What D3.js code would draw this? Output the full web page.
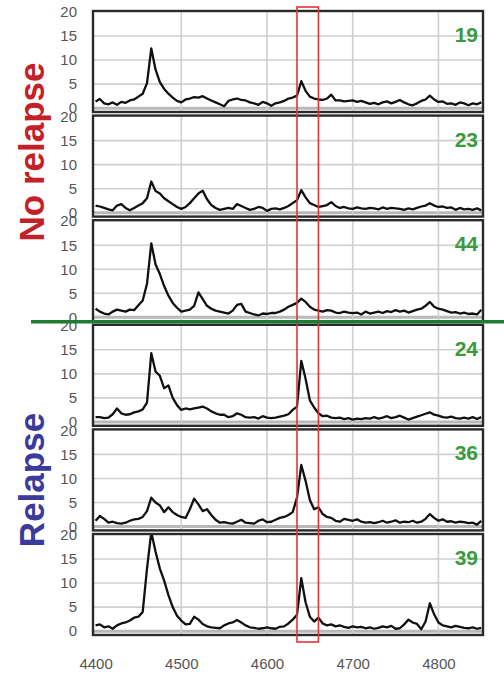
<!DOCTYPE html>
<html>
<head>
<meta charset="utf-8">
<script src="https://cdn.jsdelivr.net/npm/d3@7"></script>
<style>
  html, body { margin: 0; padding: 0; background: #fff; }
  svg { display: block; font-family: "Liberation Sans", Arial, sans-serif; }
</style>
</head>
<body>
<svg id="chart" width="504" height="676"></svg>
<script>
// Wavenumber grid shared by every spectrum (cm-1), sampled every 5 units
const wavenumbers = d3.range(4400, 4851, 5);

// Sample labels, top to bottom
const sampleIds = ["19", "23", "44", "24", "36", "39"];

// Spectra (one value per wavenumber)
const s19 = [1.4,1.9,1.0,0.8,1.2,0.7,1.3,1.1,1.6,1.8,
  2.4,3.0,5.2,12.4,8.0,5.4,4.0,3.0,2.2,1.5,
  1.2,1.8,2.0,2.3,2.2,2.5,2.0,1.6,1.2,0.8,
  0.4,1.5,1.8,2.0,1.7,1.6,1.2,1.0,0.7,1.3,
  1.0,0.5,1.0,1.2,1.5,2.0,2.2,2.6,5.6,3.6,
  2.4,2.0,1.8,1.7,2.0,2.8,1.6,1.6,1.4,1.5,
  1.6,1.3,1.5,1.2,0.9,1.1,0.8,1.2,1.4,1.0,
  1.3,1.7,1.2,0.8,0.6,1.0,1.5,1.8,2.6,1.8,
  1.3,1.4,0.9,1.0,0.7,1.2,1.0,0.6,1.0,0.8,
  1.2];
const s23 = [1.5,1.3,1.0,0.7,0.5,1.5,1.8,1.0,0.5,1.0,
  1.5,2.0,3.0,6.5,4.5,4.0,3.0,2.4,1.8,1.2,
  0.8,1.2,2.0,3.0,4.0,4.6,2.8,1.6,1.0,0.6,
  0.8,1.0,0.8,1.8,1.4,1.0,0.6,0.8,1.2,1.0,
  0.4,0.8,0.9,0.7,1.0,1.4,2.0,2.6,4.7,3.2,
  2.0,1.6,1.2,1.4,1.6,2.2,1.4,1.0,1.2,0.9,
  0.8,1.1,0.9,0.8,1.0,0.9,0.7,1.1,0.8,1.0,
  0.9,0.8,0.6,0.9,0.7,1.0,1.3,1.5,2.0,1.5,
  1.2,1.3,1.0,1.1,0.6,1.0,0.7,0.8,0.6,0.9,
  0.5];
const s44 = [1.8,1.2,0.8,0.6,1.2,1.6,1.4,1.2,1.6,1.5,
  2.5,3.5,7.0,15.4,11.0,9.0,6.5,4.5,3.0,2.0,
  1.2,1.4,1.6,2.4,5.2,3.8,2.4,1.8,1.4,1.2,
  1.0,0.8,1.4,2.6,2.8,1.2,0.9,0.6,0.4,0.8,
  0.7,0.9,0.9,1.2,1.6,2.2,2.6,3.0,3.9,3.2,
  2.2,1.6,1.4,1.2,1.5,1.4,1.0,0.9,1.2,1.0,
  0.9,1.0,0.6,1.2,0.8,1.0,1.2,0.9,1.3,1.1,
  1.5,1.2,1.4,1.0,1.3,1.6,1.8,2.4,3.2,2.2,
  1.8,1.6,1.3,1.0,1.1,0.8,1.0,0.7,0.8,0.6,
  1.6];
const s24 = [1.0,1.0,0.8,0.9,1.6,2.8,1.8,1.5,1.6,2.0,
  2.2,2.6,4.0,14.3,10.5,9.6,7.0,7.6,5.0,3.5,
  2.5,2.8,2.6,2.8,3.0,3.2,2.8,2.2,1.8,1.5,
  1.5,1.0,1.2,1.8,1.5,1.0,0.9,1.0,0.7,1.2,
  0.9,0.8,0.9,1.1,1.3,1.6,2.5,3.2,12.7,9.0,
  4.5,3.0,1.8,1.2,1.3,0.9,0.8,0.9,0.6,0.8,
  0.5,0.7,0.6,0.8,0.7,1.0,0.7,0.9,1.2,0.8,
  1.0,1.3,0.9,0.5,0.8,1.1,1.4,1.7,2.0,1.5,
  1.3,1.0,0.9,1.1,0.8,0.7,0.9,0.7,1.0,0.6,
  1.0];
const s36 = [1.2,2.2,1.6,0.8,1.0,0.7,0.6,0.8,1.2,1.5,
  1.6,2.0,3.2,6.0,5.0,4.4,3.0,4.0,3.0,2.4,
  2.0,1.8,3.6,5.8,4.6,3.2,3.6,2.4,1.4,0.8,
  0.9,0.7,0.6,1.0,1.4,0.8,0.7,0.6,1.2,1.5,
  0.9,1.0,1.4,1.8,2.0,2.4,3.0,6.0,12.8,9.5,
  5.5,3.6,4.0,2.6,2.0,1.8,1.2,1.0,1.6,1.4,
  1.2,1.5,1.0,0.8,0.9,0.7,0.9,1.2,0.8,1.0,
  1.3,0.8,1.0,0.9,1.2,0.8,1.0,1.6,2.6,1.8,
  1.2,1.5,1.0,1.1,0.8,1.0,0.9,0.7,0.8,0.4,
  1.2];
const s39 = [1.2,1.4,0.8,1.0,0.5,1.2,1.6,1.8,2.2,2.8,
  3.0,4.0,13.0,20.6,16.5,13.0,10.5,7.5,5.0,3.2,
  2.2,1.4,1.5,3.0,2.4,1.5,1.0,0.8,0.7,0.6,
  1.2,1.6,1.8,2.3,1.8,1.2,0.8,0.7,0.5,0.6,
  0.8,0.6,0.5,0.9,1.0,1.6,2.4,3.4,11.0,6.0,
  3.0,2.0,2.8,1.6,1.2,1.4,1.0,1.2,0.9,0.7,
  1.0,0.8,0.9,0.6,0.8,0.5,0.7,1.0,0.8,1.1,
  0.5,0.6,1.4,2.4,1.8,1.5,0.4,2.0,5.8,3.5,
  1.8,1.2,1.0,0.8,1.1,0.9,0.7,0.6,0.8,0.5,
  0.7];
const spectra = [s19, s23, s44, s24, s36, s39];

// Axis ticks
const xTicks = [4400, 4500, 4600, 4700, 4800];
const xGrid = [4500, 4600, 4700, 4800];
const yTicks = [0, 5, 10, 15, 20];
const yGrid = [0, 5, 10, 15];

// Highlighted band (wavenumber range)
const band = [4635, 4660];

// Group labels
const groupLabels = [
  { text: "No relapse", color: "#c42127", cy: 152 },
  { text: "Relapse", color: "#3b3b9e", cy: 480 }
];

// Layout
const W = 504, H = 676;
const left = 93, right = 483;
const panelTop0 = 11, panelStep = 104.6, panelH = 101;

const svg = d3.select("#chart");
svg.append("rect").attr("width", W).attr("height", H).attr("fill", "#fff");

const x = d3.scaleLinear().domain([4397, 4852]).range([left, right]);
const y = d3.scaleLinear().domain([-0.8, 20.2]).range([panelH, 0]);

const line = d3.line()
  .x((d, i) => x(wavenumbers[i]))
  .y(d => y(d));

spectra.forEach((vals, p) => {
  const top = panelTop0 + p * panelStep;
  const g = svg.append("g").attr("transform", `translate(0,${top})`);

  // grid
  g.selectAll("line.hg").data(yGrid).join("line")
    .attr("x1", left).attr("x2", right)
    .attr("y1", d => y(d)).attr("y2", d => y(d))
    .attr("stroke", d => d === 0 ? "#b8b8b8" : "#cfcfcf")
    .attr("stroke-width", d => d === 0 ? 3 : 1.6);
  g.selectAll("line.vg").data(xGrid).join("line")
    .attr("x1", d => x(d)).attr("x2", d => x(d))
    .attr("y1", 0).attr("y2", panelH)
    .attr("stroke", "#cfcfcf").attr("stroke-width", 1.6);

  // spectrum
  const clipId = "clip" + p;
  g.append("clipPath").attr("id", clipId)
    .append("rect").attr("x", left).attr("y", 0)
    .attr("width", right - left).attr("height", panelH);
  g.append("path")
    .attr("d", line(vals))
    .attr("clip-path", `url(#${clipId})`)
    .attr("fill", "none")
    .attr("stroke", "#111")
    .attr("stroke-width", 2.3)
    .attr("stroke-linejoin", "round");

  // frame
  g.append("rect")
    .attr("x", left).attr("y", 0)
    .attr("width", right - left).attr("height", panelH)
    .attr("fill", "none").attr("stroke", "#2a2a2a").attr("stroke-width", 2.4);

  // y axis labels
  const ax = g.append("g").attr("transform", `translate(${left - 16},0)`)
    .call(d3.axisLeft(y).tickValues(yTicks).tickSize(0).tickPadding(0));
  ax.select(".domain").remove();
  ax.selectAll("text")
    .attr("font-size", 15)
    .attr("font-family", "'Liberation Sans', Arial, sans-serif")
    .attr("fill", "#555");

  // sample number
  g.append("text")
    .attr("x", 478).attr("y", 31)
    .attr("text-anchor", "end")
    .attr("font-size", 21).attr("font-weight", "bold")
    .attr("fill", "#3a9a3e")
    .text(sampleIds[p]);
});

// x axis
const xa = svg.append("g").attr("transform", `translate(0,650)`)
  .call(d3.axisBottom(x).tickValues(xTicks).tickSize(0).tickPadding(8).tickFormat(d3.format("d")));
xa.select(".domain").remove();
xa.selectAll("text")
  .attr("font-size", 15)
  .attr("font-family", "'Liberation Sans', Arial, sans-serif")
  .attr("fill", "#555");

// highlighted band
svg.append("rect")
  .attr("x", x(band[0])).attr("y", 7)
  .attr("width", x(band[1]) - x(band[0]))
  .attr("height", 635)
  .attr("fill", "none").attr("stroke", "#e0353a").attr("stroke-width", 1.6);

// group divider
const divY = panelTop0 + 3 * panelStep - 3;
svg.append("line")
  .attr("x1", 31).attr("x2", W)
  .attr("y1", divY).attr("y2", divY)
  .attr("stroke", "#1f7a33").attr("stroke-width", 3.5);

// group labels
groupLabels.forEach(gl => {
  svg.append("text")
    .attr("transform", `translate(44,${gl.cy}) rotate(-90)`)
    .attr("text-anchor", "middle")
    .attr("font-size", 35).attr("font-weight", "bold")
    .attr("fill", gl.color)
    .text(gl.text);
});
</script>
</body>
</html>
